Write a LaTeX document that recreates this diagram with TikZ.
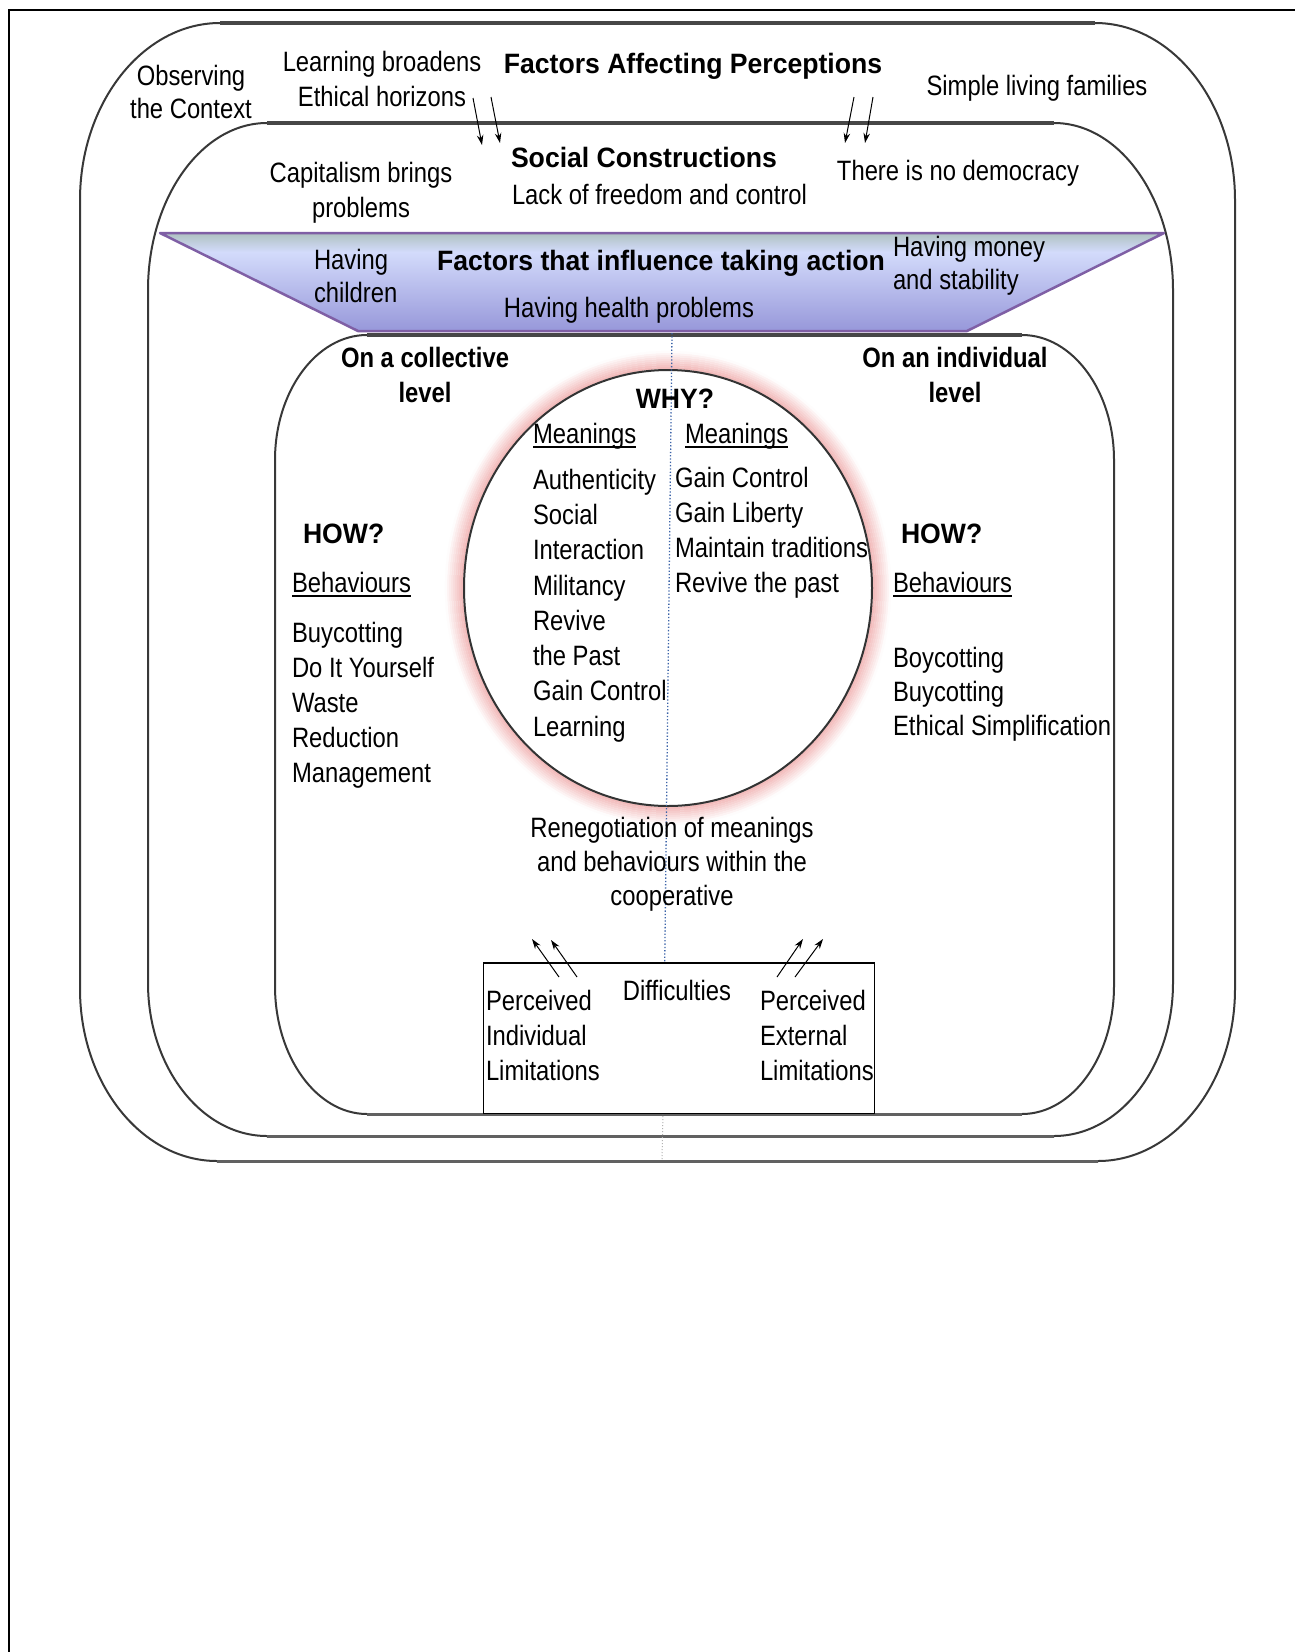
\documentclass[tikz,border=0pt]{standalone}
\usepackage{fontspec}
\setmainfont{Liberation Sans}[FakeStretch=0.85]
\newfontfamily\headfont{Liberation Sans}[FakeStretch=0.95]
\usetikzlibrary{arrows.meta}

\definecolor{bandtop}{HTML}{A9BDB8}
\definecolor{bandmid}{HTML}{D3DBFB}
\definecolor{bandbot}{HTML}{9494D8}
\definecolor{bandline}{HTML}{7F5FA5}
\definecolor{halo}{HTML}{E98C8C}
\definecolor{axisblue}{HTML}{3B63A8}

% rounded panel: style, left, top, right, bottom, top rx, top ry, bottom rx, bottom ry
\newcommand\roundbox[9]{%
  \path[#1] (#2,{#3+#7})
    .. controls (#2,{#3+0.45*#7}) and ({#2+0.45*#6},#3) .. ({#2+#6},#3)
    -- ({#4-#6},#3)
    .. controls ({#4-0.45*#6},#3) and (#4,{#3+0.45*#7}) .. (#4,{#3+#7})
    -- (#4,{#5-#9})
    .. controls (#4,{#5-0.45*#9}) and ({#4-0.45*#8},#5) .. ({#4-#8},#5)
    -- ({#2+#8},#5)
    .. controls ({#2+0.45*#8},#5) and (#2,{#5-0.45*#9}) .. (#2,{#5-#9})
    -- cycle;
  % heavier straight top and bottom edges
  \draw[black!72, line width=3.6pt] ({#2+#6},#3) -- ({#4-#6},#3);
  \draw[black!62, line width=3pt] ({#2+#8},#5) -- ({#4-#8},#5);}

% underlined word
\newcommand\undl[1]{\setbox0=\hbox{#1}\rlap{\rule[-5pt]{\wd0}{2pt}}\box0}

\begin{document}
\begin{tikzpicture}[x=1pt,y=-1pt,
  txt/.style={inner sep=0pt, outer sep=0pt, font=\fontsize{28}{35}\selectfont},
  head/.style={txt, font=\headfont\bfseries\fontsize{28}{35}\selectfont},
  sub/.style={txt, font=\bfseries\fontsize{28}{35}\selectfont},
  panel/.style={fill=white, draw=black!78, line width=2pt},
  arr/.style={line width=1pt, -{Stealth[length=10pt, width=6.5pt]}},
]
\useasboundingbox (0,0) rectangle (1295,1652);

% page frame
\draw[line width=2pt] (9,1652) -- (9,10) -- (1295,10);

% nested context panels
\roundbox{panel}{80}{23}{1235}{1161}{140}{177}{137}{172}
\roundbox{panel}{148}{123}{1173}{1136}{119}{167}{119}{153}
\roundbox{panel}{275}{335}{1114}{1114}{92}{125}{92}{128}

% action band
\begin{scope}
  \clip (160,233) -- (1164,233) -- (967,331) -- (358,331) -- cycle;
  \shade[top color=bandtop, bottom color=bandmid] (150,230) rectangle (1170,252);
  \shade[top color=bandmid, bottom color=bandbot] (150,252) rectangle (1170,335);
\end{scope}
\draw[bandline, line width=2.5pt, line join=round]
  (160,233) -- (1164,233) -- (967,331) -- (358,331) -- cycle;

% meanings circle with glow
\coordinate (cc) at (668,588);
\foreach \k in {1,...,9} {
  \pgfmathtruncatemacro\pc{66-7*\k}
  \draw[draw=halo!\pc!white, line width=2.2pt] (cc) ellipse [x radius={204pt+2pt*\k}, y radius={218pt+2pt*\k}];
}
\draw[draw=black!80, line width=2pt, fill=white] (cc) ellipse [x radius=204pt, y radius=218pt];

% central divider
\coordinate (dv1) at (672,333);
\coordinate (dv2) at (663,1113);
\coordinate (dv3) at (662,1160);
\draw[axisblue, line width=1.3pt, dotted] (dv1) -- (dv2);
\draw[black!30, line width=1pt, dotted] (dv2) -- (dv3);

% difficulties box
\node[fill=white, draw=black, line width=1pt, minimum width=391pt, minimum height=150pt,
      inner sep=0pt, anchor=north west] (box) at (483,963) {};
\draw[line width=2.5pt] (box.north west) -- (box.north east);

% outer ring texts
\node[txt, anchor=base] (obs1) at (191,85) {Observing};
\node[txt, anchor=base] (obs2) at (191,118) {the Context};
\node[txt, anchor=base] (lrn1) at (382,71) {Learning broadens};
\node[txt, anchor=base] (lrn2) at (382,106) {Ethical horizons};
\node[head, anchor=base] (fap) at (693,73) {Factors Affecting Perceptions};
\node[txt, anchor=base] (slf) at (1037,95) {Simple living families};

% social constructions ring
\node[txt, anchor=base] (cap1) at (361,182) {Capitalism brings};
\node[txt, anchor=base] (cap2) at (361,217) {problems};
\node[head, anchor=base west] (soc) at (511,167) {Social Constructions};
\node[txt, anchor=base west] (lack) at (512,204) {Lack of freedom and control};
\node[txt, anchor=base] (dem) at (958,180) {There is no democracy};

% band texts
\node[txt, anchor=base west] (hc1) at (314,269) {Having};
\node[txt, anchor=base west] (hc2) at (314,302) {children};
\node[head, anchor=base] (fta) at (661,270) {Factors that influence taking action};
\node[txt, anchor=base west] (hm1) at (893,256) {Having money};
\node[txt, anchor=base west] (hm2) at (893,289) {and stability};
\node[txt, anchor=base] (hhp) at (629,317) {Having health problems};

% levels
\node[sub, anchor=base] (oc1) at (425,367) {On a collective};
\node[sub, anchor=base] (oc2) at (425,402) {level};
\node[sub, anchor=base] (oi1) at (955,367) {On an individual};
\node[sub, anchor=base] (oi2) at (955,402) {level};

% meanings
\node[head, anchor=base] (why) at (675,408) {WHY?};
\node[txt, anchor=base west] (mL) at (533,443) {\undl{Meanings}};
\node[txt, anchor=base west] (mR) at (685,443) {\undl{Meanings}};
\node[txt, anchor=base west] (l1) at (533,489) {Authenticity};
\node[txt, anchor=base west] (l2) at (533,524) {Social};
\node[txt, anchor=base west] (l3) at (533,559) {Interaction};
\node[txt, anchor=base west] (l4) at (533,595) {Militancy};
\node[txt, anchor=base west] (l5) at (533,630) {Revive};
\node[txt, anchor=base west] (l6) at (533,665) {the Past};
\node[txt, anchor=base west] (l7) at (533,700) {Gain Control};
\node[txt, anchor=base west] (l8) at (533,736) {Learning};
\node[txt, anchor=base west] (r1) at (675,487) {Gain Control};
\node[txt, anchor=base west] (r2) at (675,522) {Gain Liberty};
\node[txt, anchor=base west] (r3) at (675,557) {Maintain traditions};
\node[txt, anchor=base west] (r4) at (675,592) {Revive the past};

% behaviours
\node[head, anchor=base west] (howL) at (303,543) {HOW?};
\node[txt, anchor=base west] (bL) at (292,592) {\undl{Behaviours}};
\node[txt, anchor=base west] (bl1) at (292,642) {Buycotting};
\node[txt, anchor=base west] (bl2) at (292,677) {Do It Yourself};
\node[txt, anchor=base west] (bl3) at (292,712) {Waste};
\node[txt, anchor=base west] (bl4) at (292,747) {Reduction};
\node[txt, anchor=base west] (bl5) at (292,782) {Management};
\node[head, anchor=base west] (howR) at (901,543) {HOW?};
\node[txt, anchor=base west] (bR) at (893,592) {\undl{Behaviours}};
\node[txt, anchor=base west] (br1) at (893,667) {Boycotting};
\node[txt, anchor=base west] (br2) at (893,701) {Buycotting};
\node[txt, anchor=base west] (br3) at (893,735) {Ethical Simplification};

% renegotiation and difficulties
\node[txt, anchor=base] (ren1) at (672,837) {Renegotiation of meanings};
\node[txt, anchor=base] (ren2) at (672,871) {and behaviours within the};
\node[txt, anchor=base] (ren3) at (672,905) {cooperative};
\node[txt, anchor=base] (diff) at (677,1000) {Difficulties};
\node[txt, anchor=base west] (pi1) at (486,1010) {Perceived};
\node[txt, anchor=base west] (pi2) at (486,1045) {Individual};
\node[txt, anchor=base west] (pi3) at (486,1080) {Limitations};
\node[txt, anchor=base west] (pe1) at (760,1010) {Perceived};
\node[txt, anchor=base west] (pe2) at (760,1045) {External};
\node[txt, anchor=base west] (pe3) at (760,1080) {Limitations};

% influence arrows
\coordinate (t1a) at (473,98);  \coordinate (t1b) at (482,145);
\coordinate (t2a) at (491,97);  \coordinate (t2b) at (500,143);
\coordinate (t3a) at (854,97);  \coordinate (t3b) at (845,143);
\coordinate (t4a) at (873,97);  \coordinate (t4b) at (865,143);
\draw[arr] (t1a) -- (t1b);
\draw[arr] (t2a) -- (t2b);
\draw[arr] (t3a) -- (t3b);
\draw[arr] (t4a) -- (t4b);
\coordinate (d1a) at (559,977); \coordinate (d1b) at (532,939);
\coordinate (d2a) at (577,977); \coordinate (d2b) at (551,940);
\coordinate (d3a) at (777,977); \coordinate (d3b) at (803,939);
\coordinate (d4a) at (795,977); \coordinate (d4b) at (823,939);
\draw[arr] (d1a) -- (d1b);
\draw[arr] (d2a) -- (d2b);
\draw[arr] (d3a) -- (d3b);
\draw[arr] (d4a) -- (d4b);
\end{tikzpicture}
\end{document}
